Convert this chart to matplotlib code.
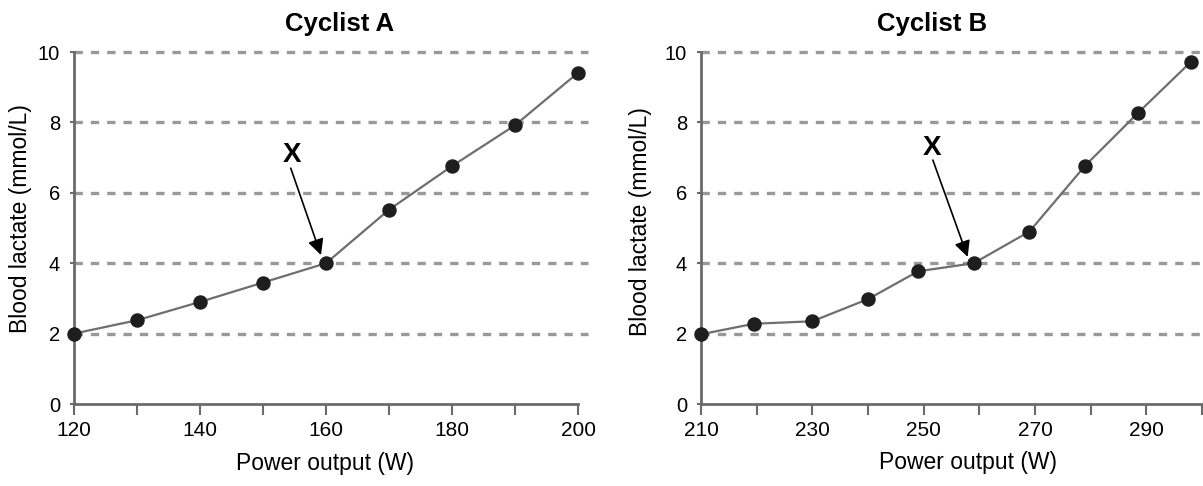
import matplotlib.pyplot as plt

plt.rcParams['font.family'] = ['Liberation Sans', 'DejaVu Sans']

# --- data
power_a = [120, 130, 140, 150, 160, 170, 180, 190, 200]
lactate_a = [2.0, 2.38, 2.9, 3.45, 4.0, 5.52, 6.76, 7.92, 9.41]

power_b = [210, 219.5, 230, 240, 249, 259, 269, 279, 288.5, 298]
lactate_b = [1.98, 2.28, 2.35, 2.98, 3.77, 4.0, 4.9, 6.77, 8.27, 9.72]

yticks = [0, 2, 4, 6, 8, 10]
xticks_a = [120, 140, 160, 180, 200]
xticks_b = [210, 230, 250, 270, 290]

LINE = '#6e6e6e'
GRID = '#999999'
SPINE = '#6a6a6a'


def style_axis(ax, xlim, major, minor):
    ax.set_xlim(*xlim)
    ax.set_ylim(0, 10)
    ax.set_yticks(yticks)
    ax.set_xticks(major)
    ax.set_xticks(minor, minor=True)
    for s in ['top', 'right']:
        ax.spines[s].set_visible(False)
    for s in ['left', 'bottom']:
        ax.spines[s].set_color(SPINE)
        ax.spines[s].set_linewidth(2)
    ax.tick_params(axis='x', which='both', direction='out', length=8,
                   width=1.5, color=SPINE, labelsize=15, pad=4)
    ax.tick_params(axis='y', direction='out', length=3, width=1.5,
                   color=SPINE, labelsize=14.5, pad=7)
    # dashed reference lines, running a little past the right end
    tr = ax.get_yaxis_transform()
    for y in yticks[1:]:
        ax.plot([0, 1.02], [y, y], transform=tr, color=GRID, lw=2.4,
                ls=(0, (2.5, 2.4)), zorder=1, clip_on=False)


fig = plt.figure(figsize=(12.03, 4.86), dpi=100)
ax1 = fig.add_axes([0.0615, 0.1687, 0.419, 0.7243])
ax2 = fig.add_axes([0.5827, 0.1687, 0.4165, 0.7243])

style_axis(ax1, (120, 200), xticks_a, range(120, 201, 10))
style_axis(ax2, (210, 300), xticks_b, range(210, 301, 10))

for ax, xs, ys in [(ax1, power_a, lactate_a), (ax2, power_b, lactate_b)]:
    ax.plot(xs, ys, color=LINE, lw=1.6, marker='o', ms=9.4,
            mfc='#1e1e1e', mec='#1e1e1e', zorder=3, clip_on=False)
    ax.set_ylabel('Blood lactate (mmol/L)', fontsize=16.5)
    ax.set_xlabel('Power output (W)', fontsize=16.5)

ax1.xaxis.set_label_coords(0.498, -0.136)
ax2.xaxis.set_label_coords(0.533, -0.134)
ax1.yaxis.set_label_coords(-0.083, 0.528)
ax2.yaxis.set_label_coords(-0.098, 0.517)

ax1.set_title('Cyclist A', fontsize=18.5, fontweight='bold', x=0.526, y=1.06, pad=0)
ax2.set_title('Cyclist B', fontsize=18.5, fontweight='bold', x=0.461, y=1.06, pad=0)

# "X" labels with arrows pointing at the 4 mmol/L point
arrow = dict(arrowstyle='-|>', color='black', lw=1.2, mutation_scale=24,
             shrinkA=0, shrinkB=0)
ax1.text(154.6, 6.875, 'X', fontsize=20, fontweight='bold', ha='center', va='baseline')
ax1.annotate('', xy=(159.2, 4.23), xytext=(154.4, 6.70), arrowprops=arrow)
ax2.text(251.5, 7.07, 'X', fontsize=20, fontweight='bold', ha='center', va='baseline')
ax2.annotate('', xy=(257.9, 4.18), xytext=(251.65, 6.93), arrowprops=arrow)

fig.savefig('out.png', dpi=100)
